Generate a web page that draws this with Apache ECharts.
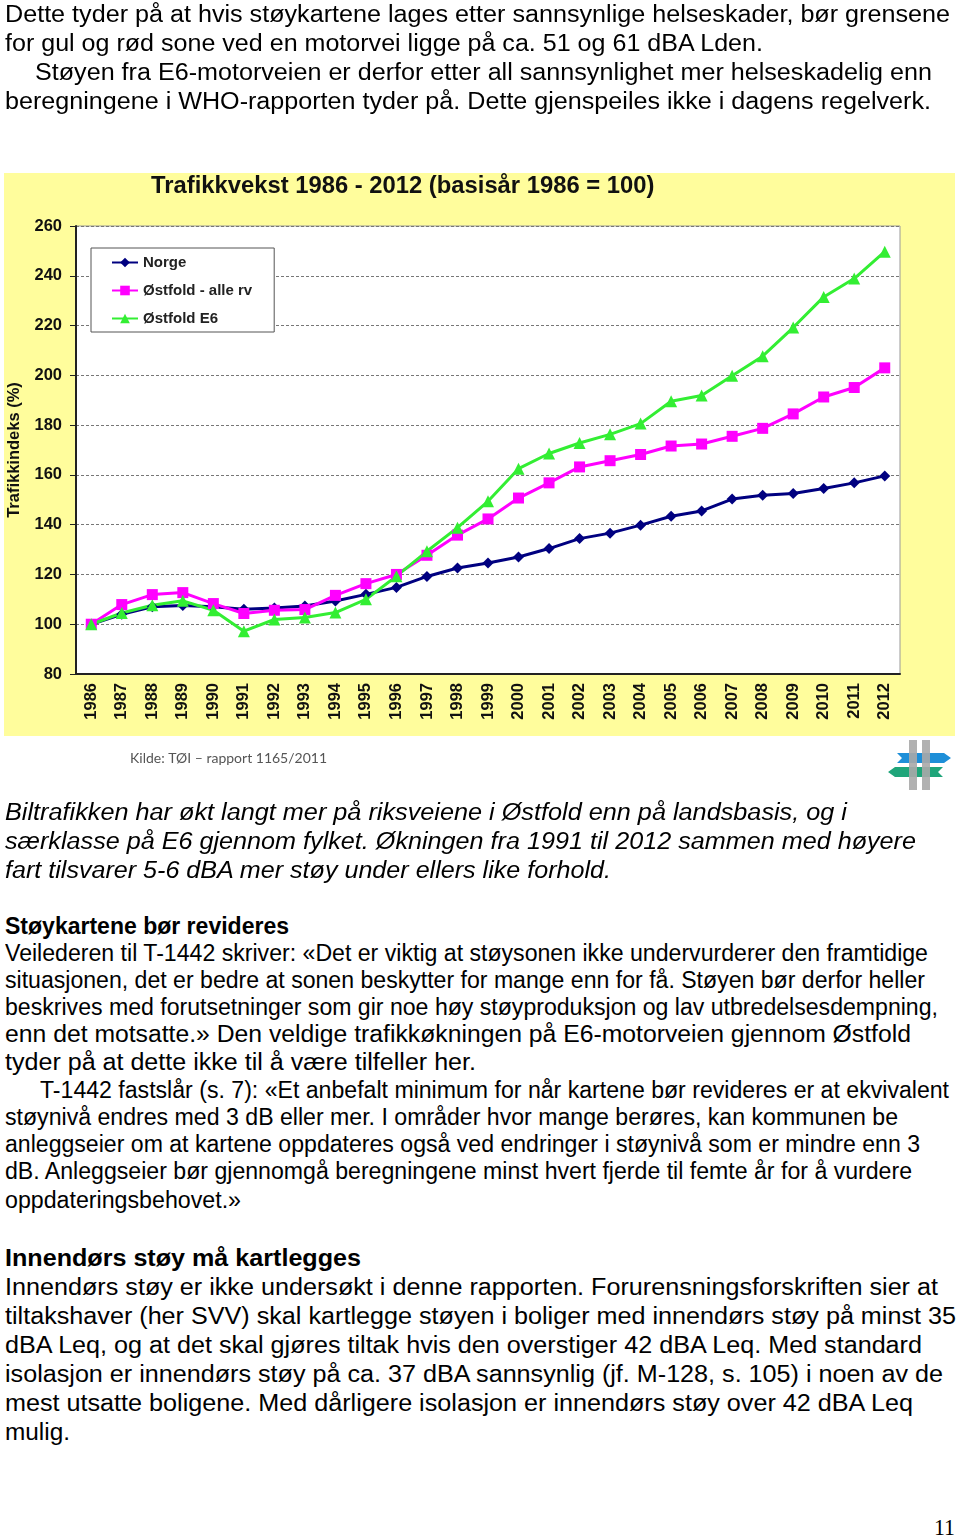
<!DOCTYPE html>
<html><head><meta charset="utf-8">
<script src="https://cdn.jsdelivr.net/npm/echarts@6/dist/echarts.min.js"></script>
<style>
html,body{margin:0;padding:0;background:#fff;}
body{width:960px;height:1539px;position:relative;overflow:hidden;font-family:"Liberation Sans",Arial,sans-serif;color:#000;}
#chart{position:absolute;left:0;top:0;width:960px;height:800px;}
.ln{position:absolute;white-space:nowrap;font-size:23px;line-height:28px;transform-origin:0 50%;}
.it{font-style:italic}
.b{font-weight:bold}
.pg{font-family:"Liberation Serif","DejaVu Serif",serif;font-size:24px;}
</style></head><body>
<div id="chart"></div>
<div id="text"></div>
<script>
// ---- chart data ----
const years = ['1986','1987','1988','1989','1990','1991','1992','1993','1994','1995','1996','1997','1998','1999','2000','2001','2002','2003','2004','2005','2006','2007','2008','2009','2010','2011','2012'];
const seriesNames = ['Norge', 'Østfold - alle rv', 'Østfold E6'];
const norge = [100, 104, 107, 107.5, 107, 106, 106.5, 107.3, 109.3, 112, 114.8, 119.2, 122.6, 124.6, 127, 130.4, 134.4, 136.6, 139.8, 143.4, 145.5, 150.3, 151.8, 152.5, 154.5, 156.8, 159.6];
const ostfoldAlle = [100, 107.9, 111.9, 112.7, 108.3, 104.3, 105.6, 105.9, 111.6, 116.3, 120, 127.7, 135.8, 142.3, 150.7, 156.8, 163.2, 165.7, 168.2, 171.6, 172.4, 175.5, 178.7, 184.5, 191.3, 195.1, 203];
const ostfoldE6 = [100, 104.5, 107.6, 109.4, 105.6, 97.2, 101.9, 102.7, 104.7, 110, 119.3, 129.3, 138.8, 149.4, 162.5, 168.6, 172.8, 176.3, 180.6, 189.6, 191.9, 199.8, 207.7, 219.2, 231.5, 238.9, 249.7];
const yMin = 80, yMax = 260, yStep = 20;
const chartTitle = 'Trafikkvekst 1986 - 2012 (basisår 1986 = 100)';
const yName = 'Trafikkindeks (%)';
const sourceText = 'Kilde: TØI – rapport 1165/2011';

// ---- page text ----
const lines = [
  ['Dette tyder på at hvis støykartene lages etter sannsynlige helseskader, bør grensene', 14, 5, 950, ''],
  ['for gul og rød sone ved en motorvei ligge på ca. 51 og 61 dBA Lden.', 43, 5, 763, ''],
  ['Støyen fra E6-motorveien er derfor etter all sannsynlighet mer helseskadelig enn', 72, 35, 932, ''],
  ['beregningene i WHO-rapporten tyder på. Dette gjenspeiles ikke i dagens regelverk.', 101, 5, 931, ''],
  ['Biltrafikken har økt langt mer på riksveiene i Østfold enn på landsbasis, og i', 812, 5, 847, 'it'],
  ['særklasse på E6 gjennom fylket. Økningen fra 1991 til 2012 sammen med høyere', 841, 5, 916, 'it'],
  ['fart tilsvarer 5-6 dBA mer støy under ellers like forhold.', 870, 5, 611, 'it'],
  ['Støykartene bør revideres', 926, 5, 289, 'b'],
  ['Veilederen til T-1442 skriver: «Det er viktig at støysonen ikke undervurderer den framtidige', 953, 5, 928, ''],
  ['situasjonen, det er bedre at sonen beskytter for mange enn for få. Støyen bør derfor heller', 980, 5, 925, ''],
  ['beskrives med forutsetninger som gir noe høy støyproduksjon og lav utbredelsesdempning,', 1007, 5, 938, ''],
  ['enn det motsatte.» Den veldige trafikkøkningen på E6-motorveien gjennom Østfold', 1034, 5, 911, ''],
  ['tyder på at dette ikke til å være tilfeller her.', 1062, 5, 476, ''],
  ['T-1442 fastslår (s. 7): «Et anbefalt minimum for når kartene bør revideres er at ekvivalent', 1090, 40, 949, ''],
  ['støynivå endres med 3 dB eller mer. I områder hvor mange berøres, kan kommunen be', 1117, 5, 898, ''],
  ['anleggseier om at kartene oppdateres også ved endringer i støynivå som er mindre enn 3', 1144, 5, 920, ''],
  ['dB. Anleggseier bør gjennomgå beregningene minst hvert fjerde til femte år for å vurdere', 1171, 5, 912, ''],
  ['oppdateringsbehovet.»', 1200, 5, 241, ''],
  ['Innendørs støy må kartlegges', 1258, 5, 361, 'b'],
  ['Innendørs støy er ikke undersøkt i denne rapporten. Forurensningsforskriften sier at', 1287, 5, 938, ''],
  ['tiltakshaver (her SVV) skal kartlegge støyen i boliger med innendørs støy på minst 35', 1316, 5, 956, ''],
  ['dBA Leq, og at det skal gjøres tiltak hvis den overstiger 42 dBA Leq. Med standard', 1345, 5, 922, ''],
  ['isolasjon er innendørs støy på ca. 37 dBA sannsynlig (jf. M-128, s. 105) i noen av de', 1374, 5, 943, ''],
  ['mest utsatte boligene. Med dårligere isolasjon er innendørs støy over 42 dBA Leq', 1403, 5, 913, ''],
  ['mulig.', 1432, 5, 70, ''],
  ['11', 1527, 934, 955, 'pg']
];

const holder = document.getElementById('text');
lines.forEach(function (l) {
  const d = document.createElement('div');
  d.className = 'ln ' + l[4];
  d.textContent = l[0];
  d.style.left = l[2] + 'px';
  d.style.top = (l[1] - 14) + 'px';
  holder.appendChild(d);
  const w = d.getBoundingClientRect().width;
  if (w > 0) d.style.transform = 'scaleX(' + ((l[3] - l[2]) / w).toFixed(4) + ')';
});

// ---- chart ----
const chart = echarts.init(document.getElementById('chart'), null, {renderer: 'canvas'});
const font = '"Liberation Sans", Arial, sans-serif';
const option = {
  animation: false,
  textStyle: {fontFamily: font},
  title: {
    text: chartTitle, left: 151, top: 174, padding: 0,
    textStyle: {fontSize: 23.8, fontWeight: 'bold', color: '#111', fontFamily: font}
  },
  legend: {
    orient: 'vertical', left: 91, top: 248, padding: [7, 22, 6, 20],
    itemGap: 13, itemWidth: 26, itemHeight: 12,
    backgroundColor: '#fff', borderColor: '#555', borderWidth: 1,
    textStyle: {fontSize: 15, fontWeight: 'bold', color: '#222', fontFamily: font},
    data: seriesNames
  },
  grid: {
    left: 76, top: 226, width: 824, height: 448,
    show: true, backgroundColor: '#fff', borderColor: '#999', borderWidth: 1,
    containLabel: false, outerBoundsMode: 'none'
  },
  xAxis: {
    type: 'category', data: years, boundaryGap: true,
    axisLine: {lineStyle: {color: '#222', width: 2}},
    axisTick: {length: 6, lineStyle: {color: '#222', width: 2}},
    axisLabel: {rotate: 90, margin: 9, fontSize: 16.5, fontWeight: 'bold', color: '#111', interval: 0, fontFamily: font},
    splitLine: {show: false}
  },
  yAxis: {
    type: 'value', min: yMin, max: yMax, interval: yStep,
    name: yName, nameLocation: 'middle', nameGap: 53, nameRotate: 90,
    nameTextStyle: {fontSize: 16.5, fontWeight: 'bold', color: '#111', fontFamily: font},
    axisLine: {show: true, lineStyle: {color: '#222', width: 2}},
    axisTick: {show: true, length: 6, lineStyle: {color: '#222', width: 1}},
    axisLabel: {margin: 14, fontSize: 16.5, fontWeight: 'bold', color: '#111', fontFamily: font},
    splitLine: {show: true, lineStyle: {color: '#777', type: [3, 2], width: 1}}
  },
  graphic: [
    {type: 'rect', z: -100, silent: true, shape: {x: 4, y: 173, width: 951, height: 563}, style: {fill: '#FFFD9C'}},
    {type: 'text', x: 130, y: 758, silent: true,
      style: {text: sourceText, fill: '#555', fontSize: 14, fontFamily: 'Lato, "Open Sans", sans-serif', verticalAlign: 'middle'}},
    {type: 'polygon', silent: true, shape: {points: [[897, 753], [944, 753], [951, 758], [944, 763], [897, 763], [902, 758]]}, style: {fill: '#1E8FD8'}},
    {type: 'polygon', silent: true, shape: {points: [[895, 767], [943, 767], [938, 772], [943, 777], [895, 777], [888, 772]]}, style: {fill: '#1FA57A'}},
    {type: 'rect', silent: true, shape: {x: 909, y: 740, width: 8, height: 50}, style: {fill: '#A9A9A9', opacity: 0.9}},
    {type: 'rect', silent: true, shape: {x: 922, y: 740, width: 8, height: 50}, style: {fill: '#A9A9A9', opacity: 0.9}}
  ],
  series: [
    {name: seriesNames[0], type: 'line', data: norge, symbol: 'diamond', symbolSize: 11,
      lineStyle: {color: '#000080', width: 3}, itemStyle: {color: '#000080'}},
    {name: seriesNames[1], type: 'line', data: ostfoldAlle, symbol: 'rect', symbolSize: 11,
      lineStyle: {color: '#FF00FF', width: 3}, itemStyle: {color: '#FF00FF'}},
    {name: seriesNames[2], type: 'line', data: ostfoldE6, symbol: 'triangle', symbolSize: 12,
      lineStyle: {color: '#33EE33', width: 3}, itemStyle: {color: '#33EE33'}}
  ]
};
chart.setOption(option);
</script>
</body></html>
